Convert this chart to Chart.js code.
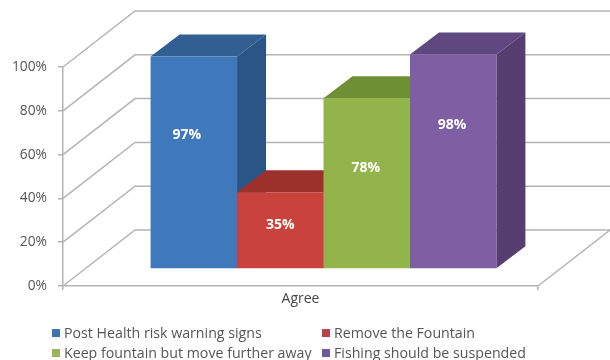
<!DOCTYPE html>
<html>
<head>
<meta charset="utf-8">
<title>Agree</title>
<script src="https://cdn.jsdelivr.net/npm/chart.js@4"></script>
<style>
  html, body { margin: 0; padding: 0; background: #fff; }
  #wrap { position: relative; width: 610px; height: 360px; overflow: hidden; }
  #legend {
    position: absolute; left: 52px; top: 323px;
    display: grid; grid-template-columns: 270px auto;
    font: 14.2px "Open Sans", sans-serif; color: #555; line-height: 20px;
  }
  #legend .item { display: flex; align-items: center; white-space: nowrap; }
  #legend .swatch { width: 8px; height: 8px; margin-right: 4px; }
</style>
</head>
<body>
<div id="wrap">
  <canvas id="chart" width="610" height="360"></canvas>
  <div id="legend"></div>
</div>
<script>
const categories = ["Agree"];
const seriesNames = [
  "Post Health risk warning signs",
  "Remove the Fountain",
  "Keep fountain but move further away",
  "Fishing should be suspended",
];
const seriesValues = [97, 35, 78, 98];
const yTicks = [0, 20, 40, 60, 80, 100];

const frontColors = ["#4079bb", "#c9433c", "#93b44a", "#7f5fa3"];
const topColors = ["#315f91", "#9c312c", "#6f8f34", "#5f4880"];
const sideColors = ["#2a5685", "#8a2a26", "#637f2e", "#563f70"];
const legendColors = ["#3f74ad", "#b8434a", "#9ab35c", "#6c5a9c"];

// where each value label sits: share of the bar height, plus a small sideways nudge
const labelLift = [0.63, 0.57, 0.59, 0.67];
const labelNudge = [-7, 0, -1, -1];

const WALL = { dx: 72, dy: -56 };
const BAR_SHIFT = { dx: 23, dy: -17 };
const BAR_DEPTH = { dx: 29, dy: -22 };
const GRID_COLOR = "#b4b4b4";
const FONT = "'Open Sans', sans-serif";

function poly(ctx, color, pts) {
  ctx.fillStyle = color;
  ctx.beginPath();
  pts.forEach(([x, y], i) => (i ? ctx.lineTo(x, y) : ctx.moveTo(x, y)));
  ctx.closePath();
  ctx.fill();
}

// back wall and floor of the box, driven by the y scale
const wallPlugin = {
  id: "wall",
  beforeDatasetsDraw(chart) {
    const { ctx, chartArea: a, scales: { y } } = chart;
    ctx.save();
    ctx.strokeStyle = GRID_COLOR;
    ctx.lineWidth = 1.5;
    yTicks.forEach(t => {
      const py = y.getPixelForValue(t);
      ctx.beginPath();
      ctx.moveTo(a.left, py);
      ctx.lineTo(a.left + WALL.dx, py + WALL.dy);
      ctx.lineTo(a.right + WALL.dx, py + WALL.dy);
      ctx.stroke();
    });
    const floor = y.getPixelForValue(0);
    ctx.beginPath();
    ctx.moveTo(a.right, floor);
    ctx.lineTo(a.right + WALL.dx, floor + WALL.dy);
    ctx.stroke();
    ctx.restore();
  },
};

// bars stand forward of the wall. Side and top faces go down first, left to right,
// then the library paints the front faces over them.
const boxPlugin = {
  id: "box",
  beforeDatasetsDraw(chart) {
    const { ctx } = chart;
    const { dx, dy } = BAR_DEPTH;
    ctx.save();
    ctx.translate(BAR_SHIFT.dx, BAR_SHIFT.dy);
    seriesValues.forEach((v, i) => {
      const bar = chart.getDatasetMeta(i).data[0];
      const l = bar.x - bar.width / 2, r = bar.x + bar.width / 2;
      const t = bar.y, b = bar.base;
      poly(ctx, sideColors[i], [[r, t], [r + dx, t + dy], [r + dx, b + dy], [r, b]]);
      poly(ctx, topColors[i], [[l, t], [l + dx, t + dy], [r + dx, t + dy], [r, t]]);
    });
    ctx.restore();
  },
  beforeDatasetDraw(chart) {
    chart.ctx.save();
    chart.ctx.translate(BAR_SHIFT.dx, BAR_SHIFT.dy);
  },
  afterDatasetDraw(chart) {
    chart.ctx.restore();
  },
  afterDatasetsDraw(chart) {
    const { ctx } = chart;
    ctx.save();
    ctx.fillStyle = "#fff";
    ctx.font = "bold 14px " + FONT;
    ctx.textAlign = "center";
    ctx.textBaseline = "middle";
    seriesValues.forEach((v, i) => {
      const bar = chart.getDatasetMeta(i).data[0];
      const x = bar.x + BAR_SHIFT.dx + labelNudge[i];
      const y = bar.base + BAR_SHIFT.dy - (bar.base - bar.y) * labelLift[i];
      ctx.fillText(v + "%", x, y);
    });
    ctx.restore();
  },
};

new Chart(document.getElementById("chart"), {
  type: "bar",
  data: {
    labels: categories,
    datasets: seriesNames.map((name, i) => ({
      label: name,
      data: [seriesValues[i]],
      backgroundColor: frontColors[i],
      clip: false,
    })),
  },
  options: {
    responsive: false,
    animation: false,
    layout: { padding: { left: 0, right: 72, top: 67, bottom: 44 } },
    datasets: { bar: { barPercentage: 1, categoryPercentage: 0.728 } },
    plugins: { legend: { display: false }, tooltip: { enabled: false } },
    scales: {
      x: {
        afterFit: s => { s.height = 30; },
        grid: { drawOnChartArea: false, tickLength: 4, color: GRID_COLOR, lineWidth: 1.5 },
        border: { color: GRID_COLOR, width: 1.5 },
        ticks: { color: "#444", font: { family: FONT, size: 14 }, padding: 1 },
      },
      y: {
        min: 0,
        max: 100,
        afterFit: s => { s.width = 63; },
        grid: { drawOnChartArea: false, tickLength: 5, color: GRID_COLOR, lineWidth: 1.5 },
        border: { color: GRID_COLOR, width: 1.5 },
        ticks: {
          stepSize: 20,
          color: "#555",
          font: { family: FONT, size: 13.8 },
          padding: 11,
          callback: v => v + "%",
        },
      },
    },
  },
  plugins: [wallPlugin, boxPlugin],
});

document.getElementById("legend").innerHTML = seriesNames.map((name, i) =>
  `<div class="item"><span class="swatch" style="background:${legendColors[i]}"></span>${name}</div>`
).join("");
</script>
</body>
</html>
